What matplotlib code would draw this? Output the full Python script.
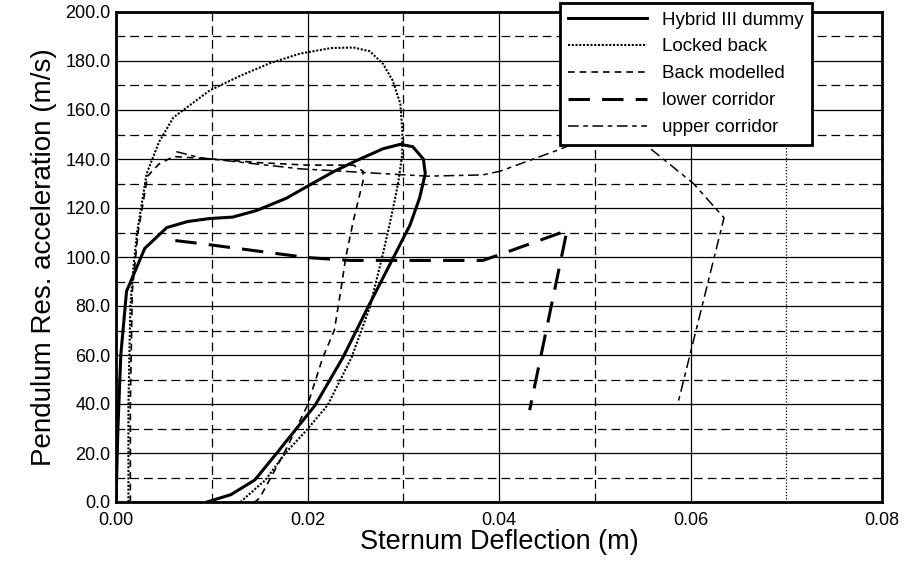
import matplotlib
matplotlib.use("Agg")
import matplotlib.pyplot as plt
from matplotlib.ticker import MultipleLocator, FuncFormatter

plt.rcParams['font.family'] = ['Liberation Sans', 'DejaVu Sans']

# ---- data ----
hybrid_x = [0.0, 0.0002, 0.0005, 0.0011, 0.003, 0.0053, 0.0075, 0.0098, 0.0122, 0.0147,
            0.0178, 0.0205, 0.0228, 0.0252, 0.0279, 0.0297, 0.031, 0.0321, 0.0323, 0.0317,
            0.0307, 0.029, 0.0263, 0.0237, 0.0208, 0.0168, 0.0145, 0.012, 0.0095]
hybrid_y = [0.0, 30, 60, 86, 103.5, 112, 114.5, 115.7, 116.3, 119,
            124, 130, 135, 139.5, 144.2, 146, 145, 140, 134, 124,
            113, 100, 79.4, 59, 39.5, 20, 9, 3, 0]

locked_x = [0.0013, 0.0013, 0.0015, 0.0018, 0.0022, 0.0032, 0.0045, 0.006, 0.0098, 0.013,
            0.016, 0.0192, 0.0225, 0.0248, 0.0265, 0.0279, 0.0289, 0.0297, 0.0299, 0.0299,
            0.0295, 0.0291, 0.0285, 0.0278, 0.0265, 0.0246, 0.0221, 0.0199, 0.0177, 0.0156, 0.013]
locked_y = [0.0, 40, 80, 95, 110, 134, 147, 157, 168, 174,
            179, 183, 185.3, 185.5, 184, 178.8, 172, 162.5, 151.5, 142,
            131, 123, 112, 100, 79.4, 59, 39.5, 29.3, 20, 9, 0]

back_x = [0.0015, 0.0015, 0.0017, 0.0023, 0.0033, 0.0045, 0.006, 0.010, 0.015, 0.020,
          0.0248, 0.0258, 0.0258, 0.0248, 0.024, 0.0235, 0.0228, 0.0216, 0.020, 0.0177, 0.015, 0.0145]
back_y = [0.0, 40, 86, 110, 133, 138, 141, 140, 138.5, 137.5,
          137.5, 135, 131, 115, 100, 87, 70, 59, 39.5, 21, 1.6, 0]

lower_x = [0.0062, 0.0088, 0.0199, 0.0244, 0.0383, 0.0401, 0.0471, 0.0432]
lower_y = [106.7, 105.5, 99.8, 98.6, 98.6, 101, 110.8, 37.5]

upper_x = [0.0063, 0.0088, 0.0192, 0.0325, 0.0383, 0.0401, 0.0464, 0.050, 0.054, 0.0603, 0.0635, 0.0587]
upper_y = [143, 140.5, 136, 133, 133.5, 135, 144, 150, 150, 130, 116, 40.5]

labels = ["Hybrid III dummy", "Locked back", "Back modelled", "lower corridor", "upper corridor"]
x_ticks = [0.00, 0.02, 0.04, 0.06, 0.08]
y_ticks = [0, 20, 40, 60, 80, 100, 120, 140, 160, 180, 200]

fig = plt.figure(figsize=(9.08, 5.62), dpi=100)
ax = fig.add_axes([116/908, 60/562, (882-116)/908, (502-12)/562])

ax.plot(hybrid_x, hybrid_y, color='black', lw=2.2, ls='-', label=labels[0], zorder=5)
ax.plot(locked_x, locked_y, color='black', lw=1.5, ls=(0, (1, 0.8)), label=labels[1], zorder=5)
ax.plot(back_x, back_y, color='black', lw=1.2, ls=(0, (4, 3)), label=labels[2], zorder=5)
ax.plot(lower_x, lower_y, color='black', lw=2.2, ls=(0, (7, 4)), label=labels[3], zorder=5)
ax.plot(upper_x, upper_y, color='black', lw=1.1, ls=(0, (7, 3, 3, 3)), label=labels[4], zorder=5)

ax.set_xlim(0, 0.08)
ax.set_ylim(0, 200)
ax.set_xticks(x_ticks)
ax.set_yticks(y_ticks)
ax.xaxis.set_minor_locator(MultipleLocator(0.01))
ax.yaxis.set_minor_locator(MultipleLocator(10))
ax.xaxis.set_major_formatter(FuncFormatter(lambda v, p: f"{v:.2f}"))
ax.yaxis.set_major_formatter(FuncFormatter(lambda v, p: f"{v:.1f}"))

ax.grid(which='major', color='black', lw=0.9, ls='-')
ax.grid(which='minor', color='black', lw=0.9, ls=(0, (7, 4)))
ax.set_axisbelow(True)
fig.canvas.draw()
for t in ax.xaxis.get_minor_ticks():
    if abs(t.get_loc() - 0.07) < 1e-6:
        t.gridline.set_linestyle((0, (1, 1.5)))

ax.tick_params(which='both', length=0, labelsize=13)
ax.tick_params(axis='x', pad=7)
ax.tick_params(axis='y', pad=4)
for s in ax.spines.values():
    s.set_linewidth(2.0)
    s.set_color('black')

ax.set_xlabel("Sternum Deflection (m)", fontsize=19.5, labelpad=0)
ax.set_ylabel("Pendulum Res. acceleration (m/s)", fontsize=20, labelpad=6)

leg = ax.legend(loc='upper left', bbox_to_anchor=(560/908, 1 - 3/562),
                bbox_transform=fig.transFigure, fontsize=13.5, frameon=True,
                fancybox=False, framealpha=1, edgecolor='black',
                handlelength=4.2, labelspacing=0.52, borderpad=0.45,
                handletextpad=0.8, borderaxespad=0)
leg.get_frame().set_linewidth(2.0)
leg.set_zorder(10)

fig.savefig("out.png", dpi=100, facecolor='white')
